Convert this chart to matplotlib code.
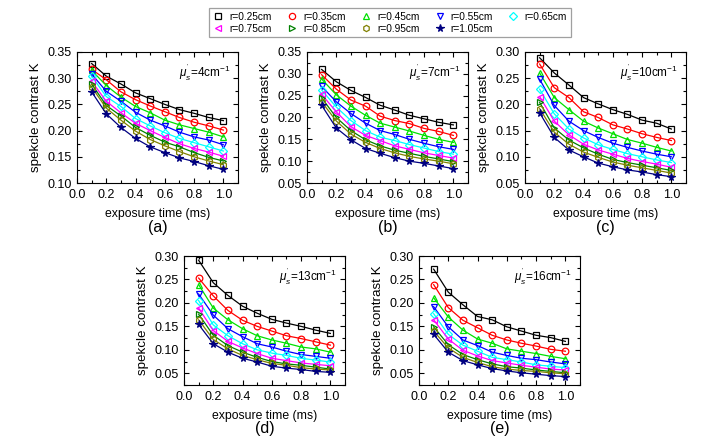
import matplotlib
matplotlib.use("Agg")
import matplotlib.pyplot as plt
from matplotlib.lines import Line2D
from matplotlib.ticker import MultipleLocator

plt.rcParams['font.family'] = ['Liberation Sans', 'DejaVu Sans']
plt.rcParams['mathtext.fontset'] = 'custom'
plt.rcParams['mathtext.rm'] = 'Liberation Sans'
plt.rcParams['mathtext.it'] = 'Liberation Sans:italic'

# exposure time (ms)
t = [0.1, 0.2, 0.3, 0.4, 0.5, 0.6, 0.7, 0.8, 0.9, 1.0]

radii = ['r=0.25cm', 'r=0.35cm', 'r=0.45cm', 'r=0.55cm', 'r=0.65cm',
         'r=0.75cm', 'r=0.85cm', 'r=0.95cm', 'r=1.05cm']
colors = ['#000000', '#FF0000', '#00E000', '#0000FF', '#00FFFF',
          '#FF00FF', '#008000', '#808000', '#000080']
markers = ['s', 'o', '^', 'v', 'D', '<', '>', 'h', '*']

mus = [4, 7, 10, 13, 16]
panel_tags = ['(a)', '(b)', '(c)', '(d)', '(e)']

# speckle contrast K, one list per radius
k_a = [
    [0.328, 0.304, 0.289, 0.272, 0.261, 0.250, 0.240, 0.233, 0.225, 0.219],
    [0.317, 0.297, 0.274, 0.259, 0.247, 0.236, 0.225, 0.216, 0.209, 0.201],
    [0.315, 0.286, 0.264, 0.246, 0.234, 0.220, 0.211, 0.204, 0.197, 0.188],
    [0.308, 0.275, 0.256, 0.235, 0.220, 0.209, 0.197, 0.188, 0.182, 0.173],
    [0.304, 0.265, 0.246, 0.223, 0.209, 0.196, 0.185, 0.177, 0.169, 0.161],
    [0.294, 0.256, 0.234, 0.214, 0.200, 0.187, 0.175, 0.166, 0.159, 0.151],
    [0.289, 0.248, 0.228, 0.206, 0.191, 0.178, 0.169, 0.158, 0.149, 0.142],
    [0.283, 0.243, 0.220, 0.199, 0.183, 0.171, 0.160, 0.150, 0.142, 0.135],
    [0.274, 0.232, 0.206, 0.185, 0.169, 0.158, 0.148, 0.141, 0.133, 0.126],
]
k_b = [
    [0.310, 0.282, 0.262, 0.246, 0.228, 0.217, 0.205, 0.197, 0.189, 0.183],
    [0.298, 0.265, 0.240, 0.226, 0.203, 0.193, 0.186, 0.175, 0.168, 0.159],
    [0.288, 0.252, 0.226, 0.205, 0.187, 0.178, 0.169, 0.159, 0.150, 0.143],
    [0.271, 0.236, 0.209, 0.187, 0.170, 0.161, 0.150, 0.141, 0.133, 0.127],
    [0.263, 0.224, 0.193, 0.170, 0.155, 0.147, 0.138, 0.130, 0.122, 0.116],
    [0.253, 0.213, 0.179, 0.159, 0.147, 0.135, 0.127, 0.119, 0.113, 0.107],
    [0.245, 0.200, 0.170, 0.149, 0.135, 0.125, 0.118, 0.111, 0.105, 0.099],
    [0.236, 0.192, 0.162, 0.143, 0.129, 0.119, 0.111, 0.105, 0.100, 0.094],
    [0.228, 0.176, 0.149, 0.129, 0.118, 0.108, 0.100, 0.095, 0.089, 0.083],
]
k_c = [
    [0.289, 0.260, 0.237, 0.213, 0.201, 0.190, 0.181, 0.170, 0.164, 0.153],
    [0.277, 0.232, 0.213, 0.186, 0.175, 0.161, 0.153, 0.144, 0.137, 0.131],
    [0.260, 0.213, 0.190, 0.168, 0.155, 0.144, 0.133, 0.126, 0.118, 0.111],
    [0.248, 0.198, 0.168, 0.150, 0.137, 0.126, 0.118, 0.111, 0.105, 0.100],
    [0.229, 0.182, 0.153, 0.136, 0.123, 0.114, 0.106, 0.100, 0.094, 0.089],
    [0.215, 0.168, 0.142, 0.124, 0.113, 0.105, 0.097, 0.091, 0.086, 0.080],
    [0.204, 0.155, 0.132, 0.117, 0.105, 0.095, 0.089, 0.084, 0.079, 0.074],
    [0.192, 0.147, 0.124, 0.109, 0.099, 0.090, 0.084, 0.079, 0.074, 0.069],
    [0.184, 0.137, 0.113, 0.100, 0.088, 0.081, 0.075, 0.071, 0.066, 0.062],
]
k_d = [
    [0.291, 0.243, 0.216, 0.193, 0.178, 0.165, 0.157, 0.150, 0.142, 0.135],
    [0.253, 0.215, 0.184, 0.163, 0.150, 0.140, 0.130, 0.124, 0.117, 0.110],
    [0.239, 0.189, 0.164, 0.145, 0.130, 0.121, 0.114, 0.106, 0.102, 0.095],
    [0.219, 0.174, 0.145, 0.128, 0.113, 0.106, 0.097, 0.090, 0.086, 0.082],
    [0.205, 0.153, 0.130, 0.113, 0.100, 0.093, 0.088, 0.082, 0.078, 0.074],
    [0.189, 0.141, 0.118, 0.104, 0.092, 0.082, 0.077, 0.072, 0.069, 0.066],
    [0.176, 0.131, 0.109, 0.095, 0.084, 0.075, 0.070, 0.067, 0.063, 0.059],
    [0.164, 0.122, 0.102, 0.088, 0.079, 0.071, 0.067, 0.062, 0.059, 0.057],
    [0.154, 0.113, 0.095, 0.082, 0.074, 0.065, 0.061, 0.058, 0.054, 0.052],
]
k_e = [
    [0.272, 0.223, 0.196, 0.171, 0.164, 0.149, 0.140, 0.131, 0.126, 0.118],
    [0.239, 0.190, 0.163, 0.147, 0.131, 0.121, 0.114, 0.108, 0.101, 0.097],
    [0.211, 0.170, 0.142, 0.123, 0.114, 0.102, 0.097, 0.092, 0.086, 0.081],
    [0.192, 0.149, 0.121, 0.109, 0.095, 0.088, 0.082, 0.079, 0.074, 0.070],
    [0.177, 0.133, 0.110, 0.097, 0.084, 0.079, 0.074, 0.068, 0.065, 0.062],
    [0.164, 0.123, 0.099, 0.087, 0.077, 0.072, 0.067, 0.063, 0.059, 0.057],
    [0.149, 0.111, 0.090, 0.079, 0.070, 0.064, 0.061, 0.057, 0.054, 0.051],
    [0.140, 0.104, 0.084, 0.073, 0.064, 0.059, 0.056, 0.054, 0.051, 0.049],
    [0.133, 0.095, 0.077, 0.068, 0.060, 0.055, 0.051, 0.048, 0.045, 0.043],
]
panels = [k_a, k_b, k_c, k_d, k_e]
ylims = [(0.10, 0.35), (0.05, 0.35), (0.05, 0.30), (0.025, 0.30), (0.025, 0.30)]

W, H = 711, 444
boxes = [(77, 52), (307, 52), (525, 52), (184, 256), (419, 256)]  # left, top in px
aw, ah = 161, 131

fig = plt.figure(figsize=(W / 100, H / 100), dpi=100)

for i, data in enumerate(panels):
    x0, y0 = boxes[i]
    hh = ah if i < 3 else 129
    ax = fig.add_axes([x0 / W, 1 - (y0 + hh) / H, aw / W, hh / H])
    for j, k in enumerate(data):
        filled = markers[j] == '*'
        ax.plot(t, k, color=colors[j], lw=0.9, marker=markers[j],
                ms=5.5 if filled else (4.0 if markers[j] == 'D' else 4.8),
                mfc=colors[j] if filled else 'none', mec=colors[j], mew=0.9)
    ax.set_xlim(0, 1.1)
    ax.set_ylim(*ylims[i])
    ax.xaxis.set_major_locator(MultipleLocator(0.2))
    ax.xaxis.set_minor_locator(MultipleLocator(0.1))
    ax.yaxis.set_major_locator(MultipleLocator(0.05))
    ax.yaxis.set_minor_locator(MultipleLocator(0.025))
    ax.xaxis.set_major_formatter(plt.FormatStrFormatter('%.1f'))
    ax.yaxis.set_major_formatter(plt.FormatStrFormatter('%.2f'))
    ax.tick_params(which='both', direction='in', top=True, right=True,
                   labelsize=9, width=0.8, pad=4)
    ax.tick_params(which='major', length=3.5)
    ax.tick_params(which='minor', length=2)
    for s in ax.spines.values():
        s.set_linewidth(0.8)
    ax.set_xlabel('exposure time (ms)', fontsize=8.8, labelpad=5)
    ax.set_ylabel('spekcle contrast K', fontsize=9.6, labelpad=4)
    ax.text(0.95, 0.84, r"$\mu_s^{'}$=%dcm$^{-1}$" % mus[i], transform=ax.transAxes,
            ha='right', va='center', fontsize=8.5)
    ax.text(0.5, -0.34, panel_tags[i], transform=ax.transAxes,
            ha='center', va='center', fontsize=11.5)

handles = [Line2D([], [], ls='none', marker=markers[j], color=colors[j],
                  mfc=colors[j] if markers[j] == '*' else 'none',
                  ms=5.5 if markers[j] == '*' else 4.5, mew=0.9)
           for j in range(len(radii))]
# matplotlib fills legend columns first; reorder so rows read left to right
order = [0, 5, 1, 6, 2, 7, 3, 8, 4]
leg = fig.legend([handles[o] for o in order], [radii[o] for o in order],
                 ncol=5, loc='upper center',
                 bbox_to_anchor=(390 / W, 1 - 8 / H), fontsize=7.3,
                 frameon=True, fancybox=False, handlelength=1.0,
                 handletextpad=0.6, columnspacing=1.5, borderpad=0.35,
                 borderaxespad=0, labelspacing=0.2)
leg.get_frame().set_edgecolor('#888888')
leg.get_frame().set_linewidth(0.9)

fig.savefig('out.png', dpi=100)
